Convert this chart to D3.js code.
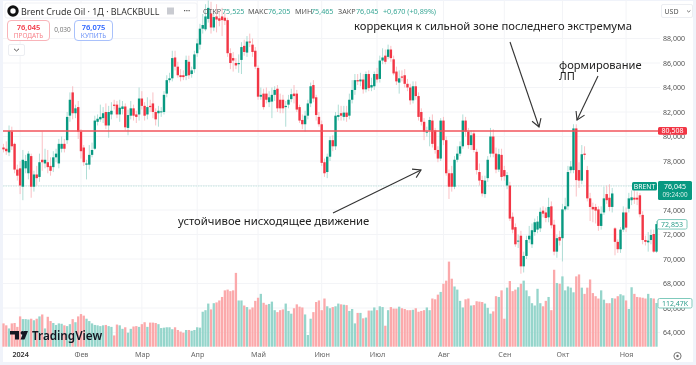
<!DOCTYPE html>
<html>
<head>
<meta charset="utf-8">
<style>
  html, body { margin: 0; padding: 0; background: #fff; overflow: hidden; }
  .canvas svg { display: block; filter: blur(0.3px); }
  text { font-family: 'Noto Sans', sans-serif; }
</style>
<script src="https://cdn.jsdelivr.net/npm/d3@7"></script>
</head>
<body>
<div class="canvas"></div>
<script>
//* ======== DATA ==========
const opens = [
  79.1,79,78.7,80.4,79.4,77.3,77.4,75.9,77.4,77,
  78.4,75.9,76.9,76.7,78.1,77.8,77.9,77.6,77.5,78.3,
  77.8,79,79.4,79.7,81.7,83.6,81.9,82.4,80.4,79.1,
  77.7,77.7,78.5,79,81.2,81.4,81.5,82,80.9,81.8,
  82.6,82.6,81.8,82.25,82.45,80.7,81.7,82.3,81.8,81.8,
  83.1,82.5,81.8,82.5,82.7,82,81.9,82,82,83.5,
  84.6,84.75,86.45,85.7,85,85,84.95,86.1,85.1,85.5,
  86.8,87.5,88.8,88.75,89.6,90.05,88.9,89.8,89.65,89.8,
  89.7,89.5,86.8,86.4,86,85.9,86.25,87.4,86.85,87.75,
  87.5,87,85.6,83.25,83.5,83.5,82.8,82.85,83.4,83.9,
  83,83,82.4,82.6,83.05,83.5,83.5,82.4,81.35,81,
  81.7,82.7,84.2,83.2,81.6,81,77.9,77.1,78.35,79.7,
  79.2,81.6,81.9,81.6,81.95,81.7,83,83.8,84.6,84.5,
  84.65,83.85,85.1,84,84.1,85.1,84.7,86.2,86.6,86.5,
  87.1,86.3,85.3,84.4,84.9,85,84.3,84,82.95,84.1,
  83.3,82,81.2,80.4,80.5,81.3,80.5,78.9,78.2,81.3,
  79.7,77,77,75.9,78.1,78.6,79.2,81.3,80.4,79.3,
  80.25,78.75,77.1,76.45,75.3,76.6,78.6,80,78.6,77.3,
  78.5,77.26,76,76,73.45,72.6,71.45,71.9,69.4,70.25,
  71.6,71.2,72.2,72.4,72.5,73.95,73.8,73.4,74.3,72.8,
  70.6,71.8,71.7,74.05,74.3,77.25,77.26,80.66,77.26,76.4,
  78.6,77.26,74.95,74.25,74.25,74.05,72.7,73.8,75.3,75,
  74.25,72.5,71.4,70.8,72.4,73.8,74.1,74.8,75,75,
  75.2,73.6,71.55,71.36,71.55,72.04,70.6
]
const closes = [
  78.95,78.8,80.45,79.2,77.3,76.8,76,78.1,78,78.6,
  75.9,76.9,76.6,77.9,77.9,78.1,77.5,77.2,78.3,78.6,
  79.4,79.4,79,81.6,83,81.9,82.3,80.4,78.8,77.9,
  77.8,78.5,78.9,81.3,81.45,81.6,81.9,80.9,82,82.1,
  82.5,81.8,82.35,82.45,80.75,81.75,82.3,81.7,81.6,83.1,
  82.5,81.7,82.4,82.4,82,81.4,82.1,82.05,83.4,84.6,
  84.75,86.4,85.7,85,84.85,84.85,86.25,85,85.4,86.7,
  87.6,88.8,89.1,89.8,90.5,88.9,89.75,89.55,89.45,89.5,
  89.45,86.8,86,86.2,85.8,86,87.3,86.9,87.75,87.7,
  86.9,85.7,83.25,83.4,82.4,83,83.2,83.4,83.8,82.3,
  82.3,82.3,82.5,83,83.45,83.3,82.2,81.3,81,81.7,
  82.7,84.1,83.1,81.75,81,77.85,77,78.35,79.7,79.2,
  81.7,81.75,81.7,81.95,81.6,83,83.8,84.6,84.5,84.65,
  83.85,85.1,83.95,84.2,85.1,84.65,86.2,86.45,86.1,87.1,
  86.4,85.15,84.5,84.75,84.8,84.3,84,82.95,84.1,83.3,
  81.6,81.2,80.4,80.4,81.35,79.4,78.9,78.2,81.3,79.7,
  77,75.9,75.9,78.1,78.6,79.2,81.3,80.4,79.3,80.1,
  78.9,77.26,76.4,75.35,76.4,78.1,80,78.6,77.3,78.55,
  76.7,76.75,76.85,73.3,72.4,71.2,71.5,69.4,70.25,71.55,
  71.9,72.35,73,73.05,73.85,73.7,73.35,74.25,72.75,70.6,
  71.7,71.5,74.05,74.3,77.1,77.55,80.66,76.44,76.4,78.55,
  78.5,74.95,74.25,74.05,73.95,72.7,73.7,74.95,74.8,74.25,
  75.35,71.4,70.8,72.4,73.8,72.56,74.95,75.03,74.85,74.85,
  73.65,71.55,71.4,71.5,71.96,70.6,72.85
]
const highs = [
  79.4,79.6,80.9,80.8,79.5,77.7,78,78.9,78.5,78.8,
  78.6,77.2,77.6,78.6,80.4,79,78.9,78.3,78.8,79,
  79.8,80,79.8,82,83.6,84.1,82.6,82.9,80.6,79.3,
  78.1,79.3,79.5,81.7,81.8,82.6,82.4,82.7,82.5,82.8,
  83,82.9,83,82.9,82.7,82.2,82.9,82.6,82.1,84,
  83.7,82.8,83.2,83,83.6,82.3,82.5,82.4,83.7,85,
  85.2,87,87,86.1,85.5,85.4,86.6,86.6,85.7,87,
  88,89.2,90,90.8,91.1,91,90.1,90.8,90.2,90.5,
  90.1,89.7,87.2,86.9,86.4,86.7,87.7,87.9,88.2,88.4,
  88,87.3,85.8,84,83.9,84,83.7,84,84.1,84.2,
  83.5,83.4,82.9,83.4,83.9,84.2,83.8,82.6,81.8,82.1,
  83,84.4,84.6,83.4,82,81.3,78.2,78.6,80,80.1,
  82,82.6,82.5,82.5,82.5,83.5,84.6,85.1,85.1,85.2,
  85.1,85.3,85.4,84.8,85.3,85.6,86.6,87.2,87.1,87.5,
  87.4,86.6,85.7,85.4,85.4,85.5,84.7,84.3,84.5,84.5,
  83.6,82.3,81.5,80.8,81.6,81.8,80.7,79.2,81.5,81.6,
  80,77.3,77.6,78.4,79.2,79.6,81.8,81.6,80.7,80.5,
  80.5,79,77.8,76.8,76.8,78.4,80.7,80.6,79.1,79,
  79,77.6,77.1,76.3,73.8,72.9,72,72.3,70.6,71.9,
  72.7,72.9,73.3,73.5,74.2,74.3,74.2,75,74.7,73.2,
  72,72.3,74.5,75,77.6,78,81,81,77.9,79.3,
  79.2,77.6,75.4,74.6,74.5,74.3,74.3,75.9,76,76.1,
  75.8,72.6,71.6,72.6,74.3,74.2,75.4,75.6,75.6,75.5,
  75.4,73.9,71.9,72.2,72.4,72.4,73.1
]
const lows = [
  78.7,78.5,78.4,78.9,77,76.4,75.3,74.8,77,76.5,
  75,75.5,76,76.3,77.2,77.4,77,76.8,77.1,77.9,
  77.4,78.7,78.7,79.4,81.2,81.4,81.5,79.8,78.2,77.6,
  76.5,77.3,78.3,78.9,80.9,81.2,81.1,80.6,79.9,81.4,
  82.2,81.5,81.2,81.8,80.5,80.1,81.4,81.3,81.1,81.3,
  82.2,81.3,81.4,82,81.5,80.9,80.8,81.6,81.8,83.2,
  84.4,84.5,85.4,84.8,84.5,84.6,84.6,84.7,84.8,85.2,
  86.5,87.1,88.4,88.6,89.3,88.4,88.6,88.5,89,88.2,
  89.1,86.5,85.5,85.3,85.5,85.2,85.1,86.6,86.5,87.3,
  86.5,85.5,83,83,82.2,82.7,82.4,81.5,82.9,82,
  81.9,81.9,80.8,82.3,82.8,82.7,82,81.1,80.6,80.4,
  81.4,82.4,82.8,81.3,80.8,77.6,76.7,76.6,78,78.8,
  78.9,81.3,81.3,81.3,81.2,81.4,82.7,83.4,84.2,84.1,
  83.5,83.6,83.7,83.7,83.8,84.4,84.4,85.9,85.9,86.3,
  86.1,85,84.2,83.5,84.5,84,83.7,82.6,82.7,83,
  81.3,80.9,79.7,80,79.2,79.1,78.6,77.9,78,79.3,
  76.8,74.9,75.5,75.7,77.9,78.4,79,80,79,78.9,
  78.7,76.9,76,75.1,75,76.3,78.3,78.3,77,77.1,
  76.4,76.4,75.7,73.1,72.1,71,70.9,68.8,68.9,70,
  71.3,70.9,71.9,72.1,72.2,73.4,73,73,72.5,70.3,
  70.1,71.1,69.8,73.9,74,77,77,75.1,75.8,76.1,
  78.1,74.7,73.1,73,72.9,72.3,72.4,73.6,74.5,73.9,
  73.8,70.3,70.5,70.5,72.2,72.2,73.8,74.4,74.5,74.4,
  73.4,71.2,71.1,70.6,71.2,70.5,70.5
]
// volume in thousands
const volumes = [
  60,55,47,60,61,51,78,71,71,70,
  72,68,72,78,83,47,77,66,61,56,
  60,59,55,53,58,71,63,78,84,80,
  72,66,60,56,55,53,55,56,53,51,
  29,57,55,46,50,36,46,52,53,51,
  58,63,51,62,62,61,58,48,49,50,
  50,45,50,43,39,36,43,43,41,43,
  50,49,90,94,111,96,112,114,119,128,
  145,147,143,145,190,119,119,106,102,96,
  101,118,126,136,113,108,110,116,94,89,
  94,96,111,92,85,99,109,103,101,83,
  30,72,89,115,119,94,124,104,99,102,
  104,111,109,108,107,92,97,60,87,87,
  73,75,93,93,101,94,104,102,54,94,
  102,98,98,103,99,97,94,94,95,99,
  90,92,94,101,94,124,122,134,141,162,
  170,219,175,155,147,118,101,122,124,106,
  107,117,116,115,111,100,85,91,130,128,
  145,72,152,169,143,147,153,162,170,145,
  130,112,106,149,112,104,118,128,94,198,
  164,162,181,145,155,152,140,181,186,152,
  136,152,173,138,130,124,145,121,112,112,
  125,124,130,135,132,119,97,153,136,128,
  127,126,124,136,125,124,112.47
]
const monthLabels = ['2024', 'Фев', 'Мар', 'Апр', 'Май', 'Июн', 'Июл', 'Авг', 'Сен', 'Окт', 'Ноя']
const monthIndex = [6, 28, 50, 70, 92, 115, 135, 159, 181, 202, 225]
const priceTicks = [64, 66, 68, 70, 72, 74, 76, 78, 80, 82, 84, 86, 88]
const levelPrice = 80.508
const lastPrice = 76.045
const openPrice = 72.853
const lastVolume = 112.47

//* ======== SVG AND SCALES ==========
const svgDims = { width: 696, height: 365 }
const green = '#089981'
const red = '#f23645'
const comma = d => d.toFixed(3).replace('.', ',')

const svg = d3
  .select('.canvas')
  .append('svg')
  .attr('width', svgDims.width)
  .attr('height', svgDims.height)

const x = d3.scaleLinear().domain([0, 236]).range([3.5, 656.5])
const y = d3.scaleLinear().domain([64, 88]).range([332.5, 38.5])
const v = d3.scaleLinear().domain([0, 112.47]).range([346.7, 303])
const candleWidth = 2.4

const candles = opens.map((o, i) => ({
  i,
  o,
  c: closes[i],
  h: highs[i],
  l: lows[i],
  vol: volumes[i],
}))

svg.append('rect').attr('width', svgDims.width).attr('height', svgDims.height).attr('fill', '#f0f3fa')
svg.append('rect').attr('x', 3).attr('y', 1).attr('width', 690).attr('height', 361).attr('fill', '#fff')

//? GRID
const grid = svg.append('g').attr('stroke', '#f3f4f7').attr('stroke-width', 1)
grid
  .selectAll('line.h')
  .data(priceTicks)
  .enter()
  .append('line')
  .attr('class', 'h')
  .attr('x1', 3)
  .attr('x2', 660)
  .attr('y1', d => y(d))
  .attr('y2', d => y(d))
grid
  .selectAll('line.v')
  .data(monthIndex)
  .enter()
  .append('line')
  .attr('class', 'v')
  .attr('x1', d => x(d))
  .attr('x2', d => x(d))
  .attr('y1', 0)
  .attr('y2', 347)

//? VOLUME BARS
svg
  .append('g')
  .selectAll('rect')
  .data(candles)
  .enter()
  .append('rect')
  .attr('x', d => x(d.i) - 1.15)
  .attr('width', 2.3)
  .attr('y', d => v(d.vol))
  .attr('height', d => v(0) - v(d.vol))
  .attr('fill', d => (d.c >= d.o ? '#95d5cb' : '#fba9ab'))

//? LAST PRICE DOTTED LINE
svg
  .append('line')
  .attr('x1', 3)
  .attr('x2', 660)
  .attr('y1', 186)
  .attr('y2', 186)
  .attr('stroke', '#c4e6e0')
  .attr('stroke-width', 1)
  .attr('stroke-dasharray', '1.5 1')

//? CANDLES
const candleGroup = svg.append('g')
candleGroup
  .selectAll('line')
  .data(candles)
  .enter()
  .append('line')
  .attr('x1', d => x(d.i))
  .attr('x2', d => x(d.i))
  .attr('y1', d => y(d.h))
  .attr('y2', d => y(d.l))
  .attr('stroke', d => (d.c >= d.o ? '#9cd6cc' : '#f9b0b5'))
  .attr('stroke-width', 0.8)
candleGroup
  .selectAll('rect')
  .data(candles)
  .enter()
  .append('rect')
  .attr('x', d => x(d.i) - candleWidth / 2)
  .attr('width', candleWidth)
  .attr('y', d => y(Math.max(d.o, d.c)))
  .attr('height', d => Math.max(1, Math.abs(y(d.o) - y(d.c))))
  .attr('fill', d => (d.c >= d.o ? green : red))

//? HORIZONTAL LEVEL
svg
  .append('line')
  .attr('x1', 3)
  .attr('x2', 660)
  .attr('y1', y(levelPrice) + 0.7)
  .attr('y2', y(levelPrice) + 0.7)
  .attr('stroke', '#f2545c')
  .attr('stroke-width', 1.7)

//* ======== AXES ==========
const yAxis = d3
  .axisRight(y)
  .tickValues(priceTicks.filter(d => d !== 76))
  .tickSize(0)
  .tickPadding(0)
  .tickFormat(comma)
const yAxisGroup = svg.append('g').attr('transform', 'translate(663, 0)').call(yAxis)
yAxisGroup.select('.domain').remove()
yAxisGroup.selectAll('text').attr('fill', '#555').style('font-size', '7px').style('font-family', "'Noto Sans', sans-serif")

const xAxis = d3
  .axisBottom(x)
  .tickValues(monthIndex)
  .tickSize(0)
  .tickPadding(0)
  .tickFormat((d, i) => monthLabels[i])
const xAxisGroup = svg.append('g').attr('transform', 'translate(0, 351.5)').call(xAxis)
xAxisGroup.select('.domain').remove()
xAxisGroup
  .selectAll('text')
  .attr('fill', (d, i) => (i === 0 ? '#333' : '#666'))
  .attr('font-weight', (d, i) => (i === 0 ? 600 : 400))
  .style('font-size', '7.2px')
  .style('font-family', "'Noto Sans', sans-serif")

//* ======== PRICE LABELS ==========
const label = (parent, tx, ty, text, size, fill, anchor, weight) =>
  parent
    .append('text')
    .attr('x', tx)
    .attr('y', ty)
    .attr('fill', fill)
    .attr('text-anchor', anchor || 'start')
    .attr('font-weight', weight || 400)
    .attr('dominant-baseline', 'central')
    .style('font-size', `${size}px`)
    .text(text)

const box = (bx, by, w, h, fill, stroke, r) =>
  svg
    .append('rect')
    .attr('x', bx)
    .attr('y', by)
    .attr('width', w)
    .attr('height', h)
    .attr('rx', r === undefined ? 1.5 : r)
    .attr('fill', fill)
    .attr('stroke', stroke || 'none')

box(658, y(levelPrice) - 3.2, 29, 7.6, red)
label(svg, 672.5, y(levelPrice) + 0.6, comma(levelPrice), 7, '#fff', 'middle')

box(632, 182, 25, 8.5, green)
label(svg, 644.5, 186.2, 'BRENT', 6.8, '#fff', 'middle')
box(658, 181, 34, 19, green)
label(svg, 675, 186, comma(lastPrice), 7, '#fff', 'middle')
label(svg, 675, 194.5, '09:24:00', 6.3, '#d5efe9', 'middle')

box(657.5, y(openPrice) - 4.5, 29.5, 9.5, '#fff', '#7fcabc')
label(svg, 672, y(openPrice) + 0.3, comma(openPrice), 7, '#2a9d8a', 'middle')

box(658, v(lastVolume) - 4.5, 34, 9.5, '#fff', '#7fcabc')
label(svg, 675, v(lastVolume) + 0.3, '112,47K', 7, '#2a9d8a', 'middle')

//* ======== HEADER ==========
box(5, 3, 192, 15, '#fff', '#f0f1f5', 2)
svg.append('circle').attr('cx', 13).attr('cy', 11).attr('r', 4.2).attr('fill', '#fff').attr('stroke', '#111').attr('stroke-width', 3)
label(svg, 21, 11.3, 'Brent Crude Oil · 1Д · BLACKBULL', 8.9, '#333')
svg.append('rect').attr('x', 167).attr('y', 7.5).attr('width', 7).attr('height', 7).attr('fill', '#c9cbd1')
label(svg, 187, 10.5, '•••', 6, '#555', 'middle')

const ohlc = [
  ['ОТКР', 203, '#555'],
  ['75,525', 222, '#3aa796'],
  ['МАКС', 248, '#555'],
  ['76,205', 268, '#3aa796'],
  ['МИН', 295, '#555'],
  ['75,465', 311, '#3aa796'],
  ['ЗАКР', 338, '#555'],
  ['76,045', 356, '#3aa796'],
  ['+0,670 (+0,89%)', 383, '#3aa796'],
]
ohlc.forEach(d => label(svg, d[1], 11, d[0], 7.2, d[2]))

box(7.5, 20.5, 42, 20, '#fff', '#f9b4b9', 3.5)
label(svg, 28.5, 26.5, '76,045', 7.5, red, 'middle', 600)
label(svg, 28.5, 35, 'ПРОДАТЬ', 6.5, '#f7838b', 'middle')
label(svg, 62.5, 29.5, '0,030', 6.5, '#777', 'middle')
box(74.5, 20.5, 38, 20, '#fff', '#a9c1fb', 3.5)
label(svg, 93.5, 26.5, '76,075', 7.5, '#2962ff', 'middle', 600)
label(svg, 93.5, 35, 'КУПИТЬ', 6.5, '#6c92f7', 'middle')

box(8.5, 44.5, 16, 11, '#fff', '#eceef2', 1.5)
svg.append('path').attr('d', 'M14 48.8 L16.5 51 L19 48.8').attr('fill', 'none').attr('stroke', '#444').attr('stroke-width', 0.9)

box(661.5, 4.5, 31, 13, '#fff', '#eceef2', 1.5)
label(svg, 664.5, 11, 'USD', 7, '#555')
svg.append('path').attr('d', 'M687 10.5 L688.7 12 L690.4 10.5').attr('fill', 'none').attr('stroke', '#555').attr('stroke-width', 0.8)

//? TRADINGVIEW LOGO
svg
  .append('path')
  .attr('d', 'M10 331 H19 V339.5 H15 V334.5 H10 Z M22.5 331 A1.9 1.9 0 1 1 22.49 331 M24 331 H28 L24.5 339.5 H20.5 Z')
  .attr('fill', '#131722')
label(svg, 32, 335.3, 'TradingView', 11.7, '#131722', 'start', 600)

//? GEAR ICON
svg.append('circle').attr('cx', 677.5).attr('cy', 356).attr('r', 3.6).attr('fill', 'none').attr('stroke', '#666').attr('stroke-width', 0.9)
svg.append('circle').attr('cx', 677.5).attr('cy', 356).attr('r', 1.2).attr('fill', '#666')

//* ======== ANNOTATIONS ==========
label(svg, 354, 25.5, 'коррекция к сильной зоне последнего экстремума', 11.25, '#222')
label(svg, 559, 64, 'формирование', 11.1, '#222')
label(svg, 559, 75, 'ЛП', 11.1, '#222')
label(svg, 178, 220, 'устойчивое нисходящее движение', 11.3, '#222')

const arrows = [
  { from: [510, 42], to: [539, 127] },
  { from: [598, 76], to: [577, 120] },
  { from: [333, 213], to: [421, 170] },
]
const arrowGroup = svg.append('g').attr('stroke', '#333').attr('stroke-width', 1.1).attr('fill', 'none')
arrows.forEach(a => {
  const angle = Math.atan2(a.to[1] - a.from[1], a.to[0] - a.from[0])
  const head = s => [
    a.to[0] - 9 * Math.cos(angle + s * 0.55),
    a.to[1] - 9 * Math.sin(angle + s * 0.55),
  ]
  arrowGroup.append('path').attr('d', d3.line()([a.from, a.to]))
  arrowGroup.append('path').attr('d', d3.line()([head(1), a.to, head(-1)]))
})
</script>
</body>
</html>
